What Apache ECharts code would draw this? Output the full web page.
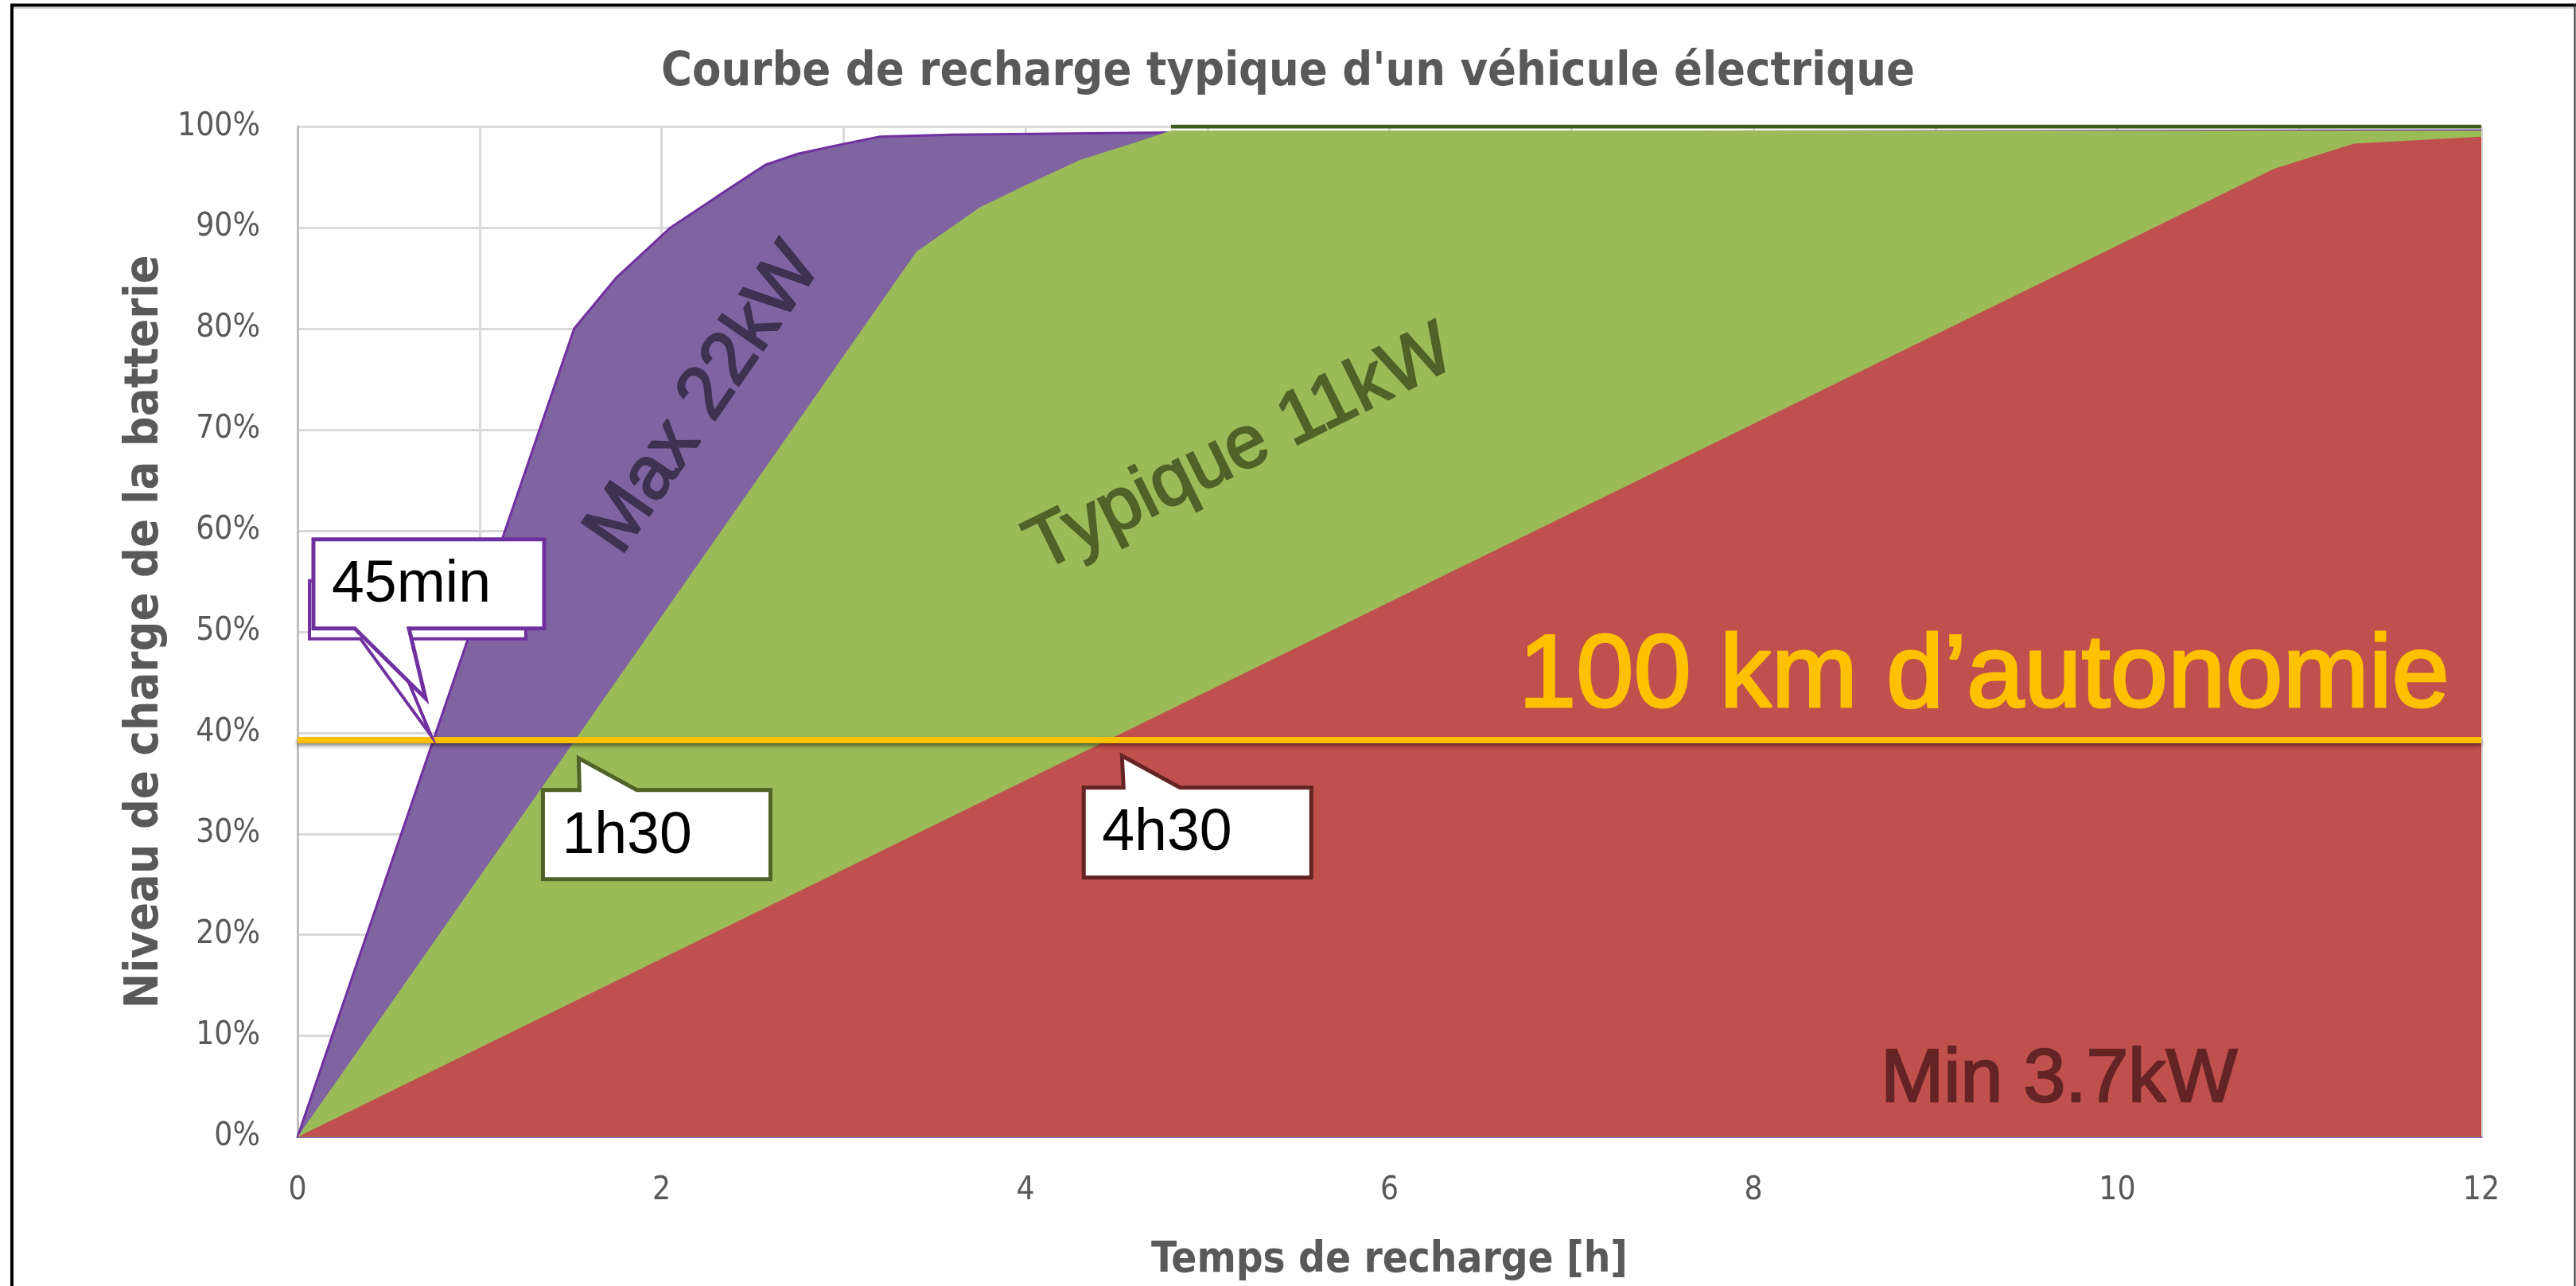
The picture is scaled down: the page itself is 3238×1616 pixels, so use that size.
<!DOCTYPE html>
<html><head><meta charset="utf-8">
<script src="https://cdn.jsdelivr.net/npm/echarts@6/dist/echarts.min.js"></script>
<style>html,body{margin:0;padding:0;background:#fff;}#c{width:3238px;height:1616px;}</style>
</head><body><div id="c"></div><script>
// ---------- DATA ----------
const chartTitle = "Courbe de recharge typique d'un véhicule électrique";
const xAxisName = "Temps de recharge [h]";
const yAxisName = "Niveau de charge de la batterie";
const xTickLabels = [0, 2, 4, 6, 8, 10, 12];
const yTickLabels = [0, 10, 20, 30, 40, 50, 60, 70, 80, 90, 100];

const maxHours  = [0, 1.52, 1.75, 2.05, 2.3, 2.57, 2.75, 2.98, 3.2, 3.6, 4.8, 12];
const maxCharge = [0, 80, 85, 90, 93, 96.2, 97.3, 98.2, 99, 99.2, 99.4, 99.6];
const typHours  = [0, 3.4, 3.75, 4.0, 4.3, 4.6, 4.8, 12];
const typCharge = [0, 87.6, 92, 94.2, 96.7, 98.4, 99.6, 99.6];
const minHours  = [0, 10.86, 11.3, 12];
const minCharge = [0, 95.8, 98.3, 99];
const capHours  = [4.8, 12];
const capCharge = [100, 100];

const autonomieLevel = 39.3;
const autonomieLabel = "100 km d\u2019autonomie";
const seriesNames = ["Max 22kW", "Typique 11kW", "Min 3.7kW"];
const calloutTexts = ["45min", "1h30", "4h30"];
const calloutHours = [0.73, 1.545, 4.53];

// ---------- helpers ----------
const zip = (a, b) => a.map((v, i) => [v, b[i]]);
const mctx = document.createElement('canvas').getContext('2d');
function tw(text, font) { mctx.font = font; return mctx.measureText(text).width; }
function hasFont(name) {
  const s = 'abcdefghijklmnopqrstuvwxyzABCDEFGH0123456789';
  return tw(s, '40px "' + name + '", monospace') !== tw(s, '40px monospace');
}
const narrow = hasFont('Liberation Sans Narrow') ? 'Liberation Sans Narrow'
             : (hasFont('DejaVu Sans Condensed') ? 'DejaVu Sans Condensed' : 'Open Sans');
const arial = 'Liberation Sans';
function fit(text, fam, weight, target) {
  return target / tw(text, weight + ' 100px "' + fam + '"') * 100;
}
const titleSize = fit(chartTitle, narrow, 'bold', 1576);
const yNameSize = fit(yAxisName, narrow, 'bold', 947);
const xNameSize = fit(xAxisName, narrow, 'bold', 599);
const tickSize  = fit('100%', narrow, 'normal', 104);
const autoSize  = fit(autonomieLabel, arial, 'normal', 1170);
const minSize   = fit(seriesNames[2], arial, 'normal', 448);
const maxSize   = fit(seriesNames[0], arial, 'normal', 445);
const typSize   = fit(seriesNames[1], arial, 'normal', 585);
const callSize  = fit('45min', arial, 'normal', 200);

const gray = '#595959';
const chart = echarts.init(document.getElementById('c'), null, {renderer: 'canvas'});

chart.setOption({
  animation: false,
  backgroundColor: '#ffffff',
  title: {
    text: chartTitle, left: 'center', top: 92 - titleSize / 2, padding: 0,
    textStyle: {fontFamily: narrow, fontWeight: 'bold', fontSize: titleSize, color: gray}
  },
  grid: {left: 374, right: 119, top: 159, bottom: 186, containLabel: false},
  xAxis: {
    type: 'value', min: 0, max: 12, interval: 1,
    name: xAxisName, nameLocation: 'middle', nameGap: 1604 - 1430 - 0.85 * xNameSize,
    nameTextStyle: {fontFamily: narrow, fontWeight: 'bold', fontSize: xNameSize, color: gray},
    axisLine: {show: true, onZero: false, lineStyle: {color: '#7b68b0', width: 3}},
    axisTick: {show: false},
    axisLabel: {
      margin: 68 - tickSize / 2, fontFamily: narrow, fontSize: tickSize, color: gray,
      formatter: v => xTickLabels.includes(v) ? String(v) : ''
    },
    splitLine: {show: true, lineStyle: {color: '#d9d9d9', width: 3}}
  },
  yAxis: {
    type: 'value', min: 0, max: 100, interval: 10,
    name: yAxisName, nameLocation: 'middle', nameGap: 162,
    nameTextStyle: {fontFamily: narrow, fontWeight: 'bold', fontSize: yNameSize, color: gray},
    axisLine: {show: true, lineStyle: {color: '#bfbfbf', width: 3}},
    axisTick: {show: false},
    axisLabel: {
      margin: 47, fontFamily: narrow, fontSize: tickSize, color: gray,
      formatter: v => yTickLabels.includes(v) ? v + '%' : ''
    },
    splitLine: {show: true, lineStyle: {color: '#d9d9d9', width: 3}}
  },
  series: [
    {
      name: seriesNames[0], type: 'line', data: zip(maxHours, maxCharge), symbol: 'none', z: 2,
      lineStyle: {color: '#7030a0', width: 3}, areaStyle: {color: '#8064a2', opacity: 1}
    },
    {
      name: seriesNames[1], type: 'line', data: zip(typHours, typCharge), symbol: 'none', z: 3,
      lineStyle: {width: 0}, areaStyle: {color: '#9bbb59', opacity: 1}
    },
    {
      name: seriesNames[2], type: 'line', data: zip(minHours, minCharge), symbol: 'none', z: 4,
      lineStyle: {width: 0}, areaStyle: {color: '#c0504d', opacity: 1}
    },
    {
      name: 'plafond', type: 'line', data: zip(capHours, capCharge), symbol: 'none', z: 5,
      lineStyle: {color: '#3d5a1f', width: 5},
      markLine: {
        silent: true, symbol: ['none', 'none'], label: {show: false},
        lineStyle: {color: '#ffc000', width: 8, type: 'solid', opacity: 1,
          shadowColor: 'rgba(0,0,0,0.5)', shadowBlur: 5, shadowOffsetY: 3},
        data: [{yAxis: autonomieLevel}]
      }
    }
  ]
});

// ---------- annotations ----------
const P = (h, v) => chart.convertToPixel({xAxisIndex: 0, yAxisIndex: 0}, [h, v]);
const g = [];
// frame
g.push({type: 'line', shape: {x1: 13, y1: 6.5, x2: 3238, y2: 6.5}, style: {stroke: '#000', lineWidth: 4}, z: 200});
g.push({type: 'line', shape: {x1: 13, y1: 10, x2: 3236, y2: 10}, style: {stroke: '#cfcfcf', lineWidth: 2}, z: 199});
g.push({type: 'line', shape: {x1: 15, y1: 5, x2: 15, y2: 1616}, style: {stroke: '#000', lineWidth: 4}, z: 200});
g.push({type: 'line', shape: {x1: 3236.5, y1: 5, x2: 3236.5, y2: 1616}, style: {stroke: '#333', lineWidth: 2}, z: 200});

// series labels
const lbl = (text, h, v, size, color, rotDeg, align) => {
  const p = P(h, v);
  return {type: 'text', x: p[0], y: p[1], rotation: rotDeg * Math.PI / 180, z: 50,
    style: {text, fontFamily: arial, fontSize: size, fill: color, stroke: color, lineWidth: 2.5,
      align: align || 'center', verticalAlign: 'middle'}};
};
g.push(lbl(seriesNames[0], 2.235, 73.0, maxSize, '#3f3151', 55.4));
g.push(lbl(seriesNames[1], 5.18, 68.0, typSize, '#4f6228', 26.3));
g.push(lbl(seriesNames[2], 9.68, 5.6, minSize, '#632423', 0));
{
  const p = P(6.71, autonomieLevel);
  g.push({type: 'text', x: p[0], y: p[1] - 13, z: 50,
    style: {text: autonomieLabel, fontFamily: arial, fontSize: autoSize, fill: '#ffc000', stroke: '#ffc000', lineWidth: 3,
      align: 'left', verticalAlign: 'bottom'}});
}

// callouts
const poly = (pts, color, lw, z) => ({type: 'polygon', shape: {points: pts}, z,
  style: {fill: '#ffffff', stroke: color, lineWidth: lw, lineJoin: 'miter'}});
const ctext = (text, x, y, z) => ({type: 'text', x, y, z,
  style: {text, fontFamily: arial, fontSize: callSize, fill: '#000', align: 'left', verticalAlign: 'middle'}});
{
  const [ax, ay] = P(calloutHours[0], autonomieLevel);
  const c = '#7030a0';
  g.push(poly([[ax-152, ay-200], [ax+120, ay-200], [ax+120, ay-127], [ax-50, ay-127], [ax+1, ay-5], [ax-88, ay-127], [ax-152, ay-127]], c, 4, 60));
  g.push(poly([[ax-147, ay-252], [ax+143, ay-252], [ax+143, ay-140], [ax-27, ay-140], [ax-6, ay-52], [ax-95, ay-140], [ax-147, ay-140]], c, 5, 61));
  g.push(ctext(calloutTexts[0], ax-124, ay-194, 62));
}
{
  const [ax, ay] = P(calloutHours[1], autonomieLevel);
  const c = '#4f6228';
  g.push(poly([[ax-45, ay+63], [ax+1, ay+63], [ax, ay+23], [ax+73, ay+63], [ax+241, ay+63], [ax+241, ay+175], [ax-45, ay+175]], c, 5, 61));
  g.push(ctext(calloutTexts[1], ax-21, ay+122, 62));
}
{
  const [ax, ay] = P(calloutHours[2], autonomieLevel);
  const c = '#632423';
  g.push(poly([[ax-48, ay+60], [ax+2, ay+60], [ax, ay+20], [ax+73, ay+60], [ax+238, ay+60], [ax+238, ay+173], [ax-48, ay+173]], c, 5, 61));
  g.push(ctext(calloutTexts[2], ax-25, ay+118, 62));
}
chart.setOption({graphic: g});
</script></body></html>
